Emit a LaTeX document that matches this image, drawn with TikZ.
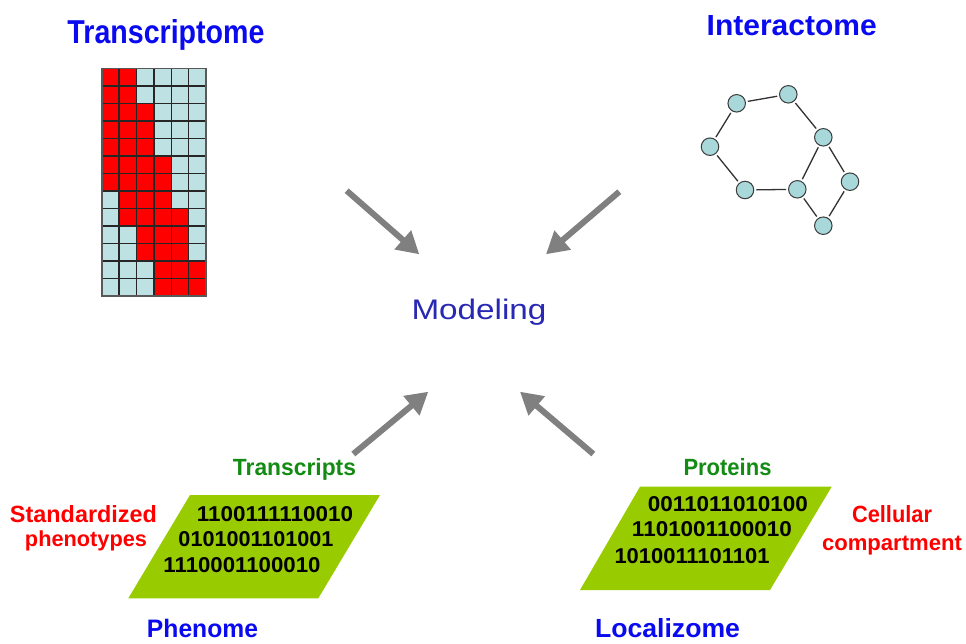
\documentclass[tikz,border=0pt]{standalone}
\usepackage{fontspec}
\setmainfont{Liberation Sans}
\usetikzlibrary{arrows.meta}
\definecolor{titleblue}{RGB}{10,10,240}
\definecolor{modblue}{RGB}{40,40,180}
\definecolor{lblgreen}{RGB}{20,140,20}
\definecolor{lblred}{RGB}{255,0,0}
\definecolor{parag}{RGB}{153,204,0}
\definecolor{gridcyan}{RGB}{190,225,228}
\definecolor{gnodefill}{RGB}{168,216,218}
\definecolor{gnodeline}{RGB}{60,60,60}
\definecolor{arrgray}{RGB}{128,128,128}
\newcommand\fwh[3]{\resizebox{#1pt}{#2pt}{#3}}
\newcommand\fw[2]{\resizebox{#1pt}{!}{#2}}
\begin{document}
\begin{tikzpicture}[x=1pt,y=-1pt,
  lbl/.style={inner sep=0pt,anchor=base},
  gnode/.style={circle,draw=gnodeline,fill=gnodefill,line width=1pt,minimum size=17.5pt,inner sep=0pt},
  gedge/.style={draw=black!80,line width=1.3pt},
  gline/.style={line width=1.5pt,draw=black!85},
  arr/.style={draw=arrgray,line width=6pt,-{Triangle[width=24pt,length=22pt]}},
  para/.style={fill=parag}]
\useasboundingbox (0,0) rectangle (966,643);
\fill[white] (0,0) rectangle (966,643);

% Transcriptome grid
\fill[gridcyan] (101.7,68.3) rectangle (206.1,295.8);
\foreach \r/\a/\b in {1/1/2,2/1/2,3/1/3,4/1/3,5/1/3,6/1/4,7/1/4,8/2/4,9/2/5,10/3/5,11/3/5,12/4/6,13/4/6}
  \fill[red] ({101.7+(\a-1)*17.4},{68.3+(\r-1)*17.5}) rectangle ({101.7+\b*17.4},{68.3+\r*17.5});
\foreach \i in {0,...,6}
  \draw[gline] ({101.7+\i*17.4},68.3) -- ({101.7+\i*17.4},295.8);
\foreach \j in {0,...,13}
  \draw[gline] (101.7,{68.3+\j*17.5}) -- (206.1,{68.3+\j*17.5});
\draw[line width=1.6pt,draw=black!65] (101.7,68.3) rectangle (206.1,295.8);

% Interactome graph
\node[gnode] (g1) at (736.7,103.3) {};
\node[gnode] (g2) at (788.3,94.3) {};
\node[gnode] (g3) at (710,146.7) {};
\node[gnode] (g4) at (823.3,137.3) {};
\node[gnode] (g5) at (745,190) {};
\node[gnode] (g6) at (797.3,189.3) {};
\node[gnode] (g7) at (850,181.7) {};
\node[gnode] (g8) at (823.3,225.7) {};
\foreach \u/\v in {g1/g2,g1/g3,g2/g4,g3/g5,g5/g6,g4/g6,g4/g7,g6/g8,g7/g8}
  \draw[gedge,shorten <=2pt,shorten >=2pt] (\u) -- (\v);

% Titles
\node[lbl,text=titleblue] (ttrans) at (166,43.3) {\fwh{197}{24}{\textbf{Transcriptome}}};
\node[lbl,text=titleblue] (tinter) at (791.7,35) {\fwh{170}{20}{\textbf{Interactome}}};
\node[lbl,text=modblue] (model) at (479,319.3) {\fwh{135}{20.5}{Modeling}};

% Arrows
\coordinate (a1s) at (346.7,190.7); \coordinate (a1e) at (419.3,254.3);
\coordinate (a2s) at (619.3,191.7); \coordinate (a2e) at (546,254.3);
\coordinate (a3s) at (353.3,454);   \coordinate (a3e) at (428.3,391.7);
\coordinate (a4s) at (593.3,454);   \coordinate (a4e) at (520,391.7);
\draw[arr] (a1s) -- (a1e);
\draw[arr] (a2s) -- (a2e);
\draw[arr] (a3s) -- (a3e);
\draw[arr] (a4s) -- (a4e);

% Parallelograms
\fill[para] (190,495) -- (380,495) -- (318.3,598.3) -- (128.3,598.3) -- cycle;
\fill[para] (640,486.7) -- (831.7,486.7) -- (770,590) -- (580,590) -- cycle;

% Binary texts left
\node[lbl] (bl1) at (275,521.7) {\fwh{156}{15}{\textbf{1100111110010}}};
\node[lbl] (bl2) at (256,546.7) {\fwh{155}{15}{\textbf{0101001101001}}};
\node[lbl] (bl3) at (242,572.5) {\fwh{157}{15}{\textbf{1110001100010}}};
% Binary texts right
\node[lbl] (br1) at (728,511.5) {\fwh{160}{15}{\textbf{0011011010100}}};
\node[lbl] (br2) at (712,536.7) {\fwh{160}{15}{\textbf{1101001100010}}};
\node[lbl] (br3) at (692,563) {\fwh{155}{15}{\textbf{1010011101101}}};

% Labels
\node[lbl,text=lblgreen] (ltrs) at (294.5,475) {\fwh{123}{17}{\textbf{Transcripts}}};
\node[lbl,text=lblgreen] (lpro) at (727.5,475) {\fwh{88}{17}{\textbf{Proteins}}};
\node[lbl,text=lblred] (lstd) at (83.5,522) {\fwh{147}{17}{\textbf{Standardized}}};
\node[lbl,text=lblred] (lphe) at (86,546.7) {\fw{122}{\textbf{phenotypes}}};
\node[lbl,text=lblred] (lcel) at (892,522) {\fwh{80}{17}{\textbf{Cellular}}};
\node[lbl,text=lblred] (lcom) at (892,550) {\fw{140}{\textbf{compartment}}};
\node[lbl,text=titleblue] (tphen) at (202.5,637.5) {\fwh{111}{18.3}{\textbf{Phenome}}};
\node[lbl,text=titleblue] (tloc) at (667.5,637.5) {\fwh{145}{19}{\textbf{Localizome}}};
\end{tikzpicture}
\end{document}
